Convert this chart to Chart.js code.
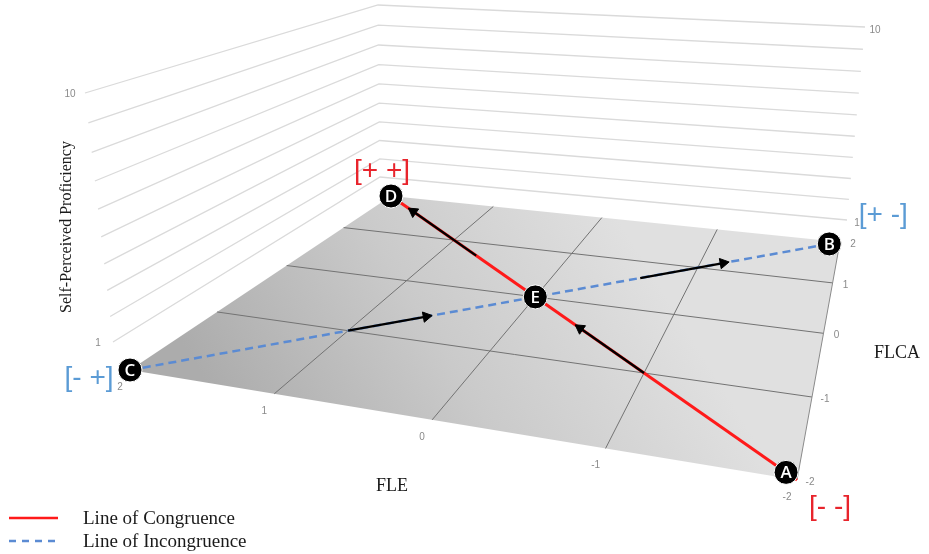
<!DOCTYPE html>
<html>
<head>
<meta charset="utf-8">
<script src="https://cdn.jsdelivr.net/npm/chart.js@4.4.0/dist/chart.umd.min.js"></script>
<style>
  html, body { margin: 0; padding: 0; background: #fff; }
</style>
</head>
<body>
<canvas id="chart" width="929" height="554"></canvas>
<script>
// floor coordinates are (FLE, FLCA), height is self-perceived proficiency
const fleTicks = [2, 1, 0, -1, -2];
const flcaTicks = [-2, -1, 0, 1, 2];
const heightLevels = [1, 2, 3, 4, 5, 6, 7, 8, 9, 10];
const heightTickLabels = [1, 10];

const pointNames = ['A', 'B', 'C', 'D', 'E'];
const pointFLE = [-1.94, -1.92, 2, 2, 0];
const pointFLCA = [-1.94, 1.92, -2, 2, 0];
const quadrantLabels = ['[- -]', '[+ -]', '[- +]', '[+ +]'];   // beside A, B, C, D

const congruenceFLE = [-2, 2];
const congruenceFLCA = [-2, 2];
const incongruenceFLE = [2, -2];
const incongruenceFLCA = [-2, 2];

const arrowFromFLE = [-1, 0.7, 1, -0.63];
const arrowFromFLCA = [-1, 0.7, -1, 0.63];
const arrowToFLE = [-0.45, 1.62, 0.6, -1.17];
const arrowToFLCA = [-0.45, 1.62, -0.6, 1.17];

const seriesNames = ['Line of Congruence', 'Line of Incongruence'];

// ---- perspective: unit square -> quadrilateral on screen ----
function quadMap(p) {
    const [[x0, y0], [x1, y1], [x2, y2], [x3, y3]] = p;
    const dx1 = x1 - x2, dx2 = x3 - x2, dx3 = x0 - x1 + x2 - x3;
    const dy1 = y1 - y2, dy2 = y3 - y2, dy3 = y0 - y1 + y2 - y3;
    const den = dx1 * dy2 - dx2 * dy1;
    const g = (dx3 * dy2 - dx2 * dy3) / den;
    const h = (dx1 * dy3 - dx3 * dy1) / den;
    const a = x1 - x0 + g * x1, b = x3 - x0 + h * x3;
    const d = y1 - y0 + g * y1, e = y3 - y0 + h * y3;
    return (u, v) => {
        const w = g * u + h * v + 1;
        return {x: (a * u + b * v + x0) / w, y: (d * u + e * v + y0) / w};
    };
}
const floorMap = quadMap([[130, 370], [797, 480], [840, 242], [391, 196]]);
const leftWallMap = quadMap([[113, 342], [380, 177], [378, 5], [85, 93]]);
const rightWallMap = quadMap([[380, 177], [847, 220], [865, 27], [378, 5]]);

const fleMax = Math.max(...fleTicks), fleMin = Math.min(...fleTicks);
const flcaMax = Math.max(...flcaTicks), flcaMin = Math.min(...flcaTicks);
const hMin = heightLevels[0], hMax = heightLevels[heightLevels.length - 1];

function floorPt(fle, flca) {
    return floorMap((fleMax - fle) / (fleMax - fleMin), (flca - flcaMin) / (flcaMax - flcaMin));
}
function leftWallPt(flca, z) {
    return leftWallMap((flca - flcaMin) / (flcaMax - flcaMin), (z - hMin) / (hMax - hMin));
}
function rightWallPt(fle, z) {
    return rightWallMap((fleMax - fle) / (fleMax - fleMin), (z - hMin) / (hMax - hMin));
}

const RED = '#ff1a1a';
const BLUE = '#5b8bd3';

// ---- datasets ----
let datasets = [];

datasets.push({
    data: [[fleMax, flcaMin], [fleMin, flcaMin], [fleMin, flcaMax], [fleMax, flcaMax], [fleMax, flcaMin]]
        .map(c => floorPt(c[0], c[1])),
    showLine: true, fill: 'shape', pointRadius: 0, borderWidth: 1,
    borderColor: 'rgba(0,0,0,0)',
    backgroundColor: function (c) {
        let gr = c.chart.ctx.createLinearGradient(230, 420, 600, 190);
        gr.addColorStop(0, '#acacac');
        gr.addColorStop(0.5, '#cacaca');
        gr.addColorStop(1, '#e0e0e0');
        return gr;
    },
    order: 20
});

heightLevels.forEach(z => {
    datasets.push({
        data: [leftWallPt(flcaMin, z), leftWallPt(flcaMax, z), rightWallPt(fleMin, z)],
        showLine: true, pointRadius: 0, borderColor: '#dadada', borderWidth: 1.3, order: 15
    });
});

fleTicks.filter(v => v !== fleMax).forEach(v => {
    datasets.push({
        data: [floorPt(v, flcaMin), floorPt(v, flcaMax)],
        showLine: true, pointRadius: 0, borderColor: v === fleMin ? '#8a8a8a' : '#737373',
        borderWidth: 1, order: 12
    });
});
flcaTicks.filter(v => v !== flcaMin && v !== flcaMax).forEach(v => {
    datasets.push({
        data: [floorPt(fleMax, v), floorPt(fleMin, v)],
        showLine: true, pointRadius: 0, borderColor: '#737373', borderWidth: 1, order: 12
    });
});

datasets.push({
    label: seriesNames[1],
    data: incongruenceFLE.map((v, i) => floorPt(v, incongruenceFLCA[i])),
    showLine: true, pointRadius: 0, borderColor: BLUE, borderWidth: 2.5, borderDash: [8, 5], order: 6
});
datasets.push({
    label: seriesNames[0],
    data: congruenceFLE.map((v, i) => floorPt(v, congruenceFLCA[i])),
    showLine: true, pointRadius: 0, borderColor: RED, borderWidth: 3, order: 5
});

arrowFromFLE.forEach((v, i) => {
    const p0 = floorPt(v, arrowFromFLCA[i]);
    const p1 = floorPt(arrowToFLE[i], arrowToFLCA[i]);
    const ang = Math.atan2(p1.y - p0.y, p1.x - p0.x) * 180 / Math.PI + 90;
    datasets.push({
        data: [p0, p1],
        showLine: true, borderColor: '#000', borderWidth: 2.3,
        pointRadius: [0, 6], pointStyle: 'triangle', pointRotation: [0, ang],
        pointBackgroundColor: '#000', pointBorderColor: '#000', pointBorderWidth: 1, order: 3
    });
});

datasets.push({
    data: pointFLE.map((v, i) => floorPt(v, pointFLCA[i])),
    showLine: false, pointRadius: 12, pointBackgroundColor: '#000',
    pointBorderColor: '#fff', pointBorderWidth: 1, order: 1
});
const markerIndex = datasets.length - 1;

// ---- text: letters, ticks, titles, quadrant labels, legend ----
const quadOffsets = [[44, 35], [54, -29], [-41, 8], [-9, -25]];
const quadColors = ['#e8242c', '#5b9bd5', '#5b9bd5', '#e8242c'];

const textPlugin = {
    id: 'text3d',
    afterDatasetsDraw(chart) {
        const ctx = chart.ctx;
        const xs = chart.scales.x, ys = chart.scales.y;
        const px = p => ({x: xs.getPixelForValue(p.x), y: ys.getPixelForValue(p.y)});
        ctx.save();
        ctx.textAlign = 'center';
        ctx.textBaseline = 'middle';

        // marker letters
        const meta = chart.getDatasetMeta(markerIndex);
        ctx.fillStyle = '#fff';
        ctx.font = '600 17px "Open Sans"';
        meta.data.forEach((el, i) => ctx.fillText(pointNames[i], el.x, el.y + 1));

        // quadrant labels
        ctx.font = '28px "Liberation Sans"';
        quadrantLabels.forEach((t, i) => {
            const el = meta.data[i];
            ctx.fillStyle = quadColors[i];
            ctx.fillText(t, el.x + quadOffsets[i][0], el.y + quadOffsets[i][1]);
        });

        // tick labels
        ctx.fillStyle = '#8a8a8a';
        ctx.font = '10px "Liberation Sans"';
        fleTicks.forEach(v => {
            const p = px(floorPt(v, flcaMin));
            ctx.fillText(String(v), p.x - 10, p.y + 17);
        });
        flcaTicks.forEach(v => {
            const p = px(floorPt(fleMin, v));
            ctx.fillText(String(v), p.x + 13, p.y + 2);
        });
        heightTickLabels.forEach(z => {
            const l = px(leftWallPt(flcaMin, z));
            ctx.fillText(String(z), l.x - 15, l.y + 1);
            const r = px(rightWallPt(fleMin, z));
            ctx.fillText(String(z), r.x + 10, r.y + 3);
        });

        // axis titles
        ctx.fillStyle = '#1a1a1a';
        ctx.font = '18px "Liberation Serif"';
        ctx.fillText('FLE', 392, 486);
        ctx.fillText('FLCA', 897, 353);
        ctx.save();
        ctx.translate(67, 227);
        ctx.rotate(-Math.PI / 2);
        ctx.font = '16px "Liberation Serif"';
        ctx.fillText('Self-Perceived Proficiency', 0, 0);
        ctx.restore();

        // legend
        const leg = [chart.data.datasets.find(d => d.label === seriesNames[0]),
                     chart.data.datasets.find(d => d.label === seriesNames[1])];
        ctx.textAlign = 'left';
        ctx.font = '19px "Liberation Serif"';
        leg.forEach((d, i) => {
            const y = 518 + i * 23;
            ctx.strokeStyle = d.borderColor;
            ctx.lineWidth = 2.5;
            ctx.setLineDash(d.borderDash ? [7, 6] : []);
            ctx.beginPath();
            ctx.moveTo(9, y);
            ctx.lineTo(58, y);
            ctx.stroke();
            ctx.setLineDash([]);
            ctx.fillStyle = '#1a1a1a';
            ctx.fillText(d.label, 83, y + 1);
        });
        ctx.restore();
    }
};

new Chart(document.getElementById('chart').getContext('2d'), {
    type: 'scatter',
    data: {datasets: datasets},
    options: {
        responsive: false,
        animation: false,
        events: [],
        layout: {padding: 0, autoPadding: false},
        scales: {
            x: {type: 'linear', min: 0, max: 929, display: false},
            y: {type: 'linear', min: 0, max: 554, reverse: true, display: false}
        },
        plugins: {legend: {display: false}, tooltip: {enabled: false}}
    },
    plugins: [textPlugin]
});
</script>
</body>
</html>
